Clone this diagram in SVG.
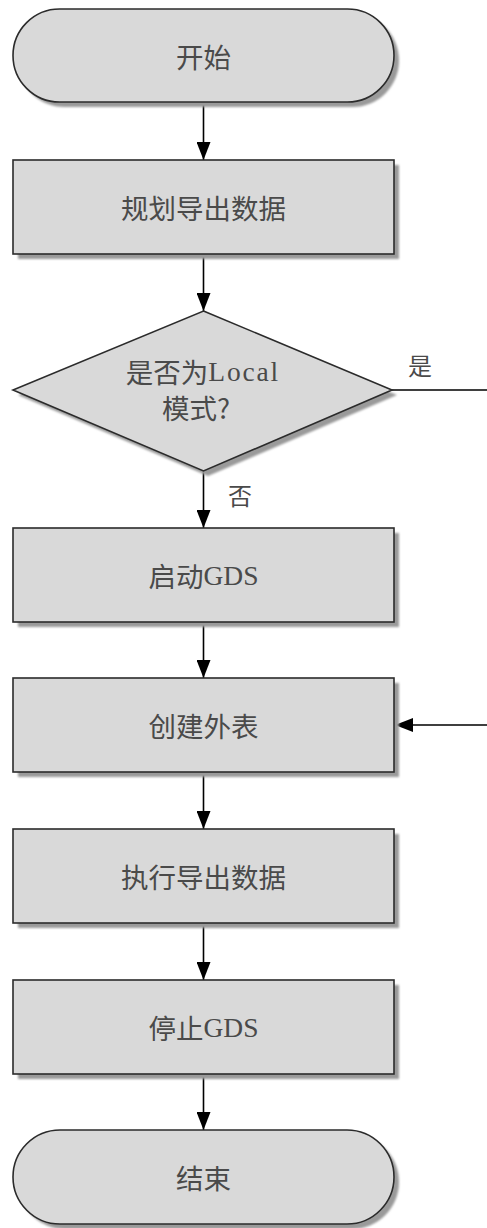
<svg xmlns="http://www.w3.org/2000/svg" width="487" height="1228" viewBox="0 0 487 1228">
<defs>
<style>
.shape{fill:#d9d9d9;stroke:#2b2b2b;stroke-width:1.6}
.shadow{fill:#9a9a9a;filter:url(#blur)}
.lbl{font-family:"Noto Sans CJK SC","Liberation Serif",serif;font-size:27.5px;fill:#4a4a4a;text-anchor:middle;dominant-baseline:central}
.lat{font-family:"Liberation Serif",serif}
.edge{fill:none;stroke:#000;stroke-width:1.6}
.elbl{font-family:"Noto Sans CJK SC",serif;font-size:24px;fill:#4a4a4a;text-anchor:middle;dominant-baseline:central}
</style>
<filter id="blur" x="-10%" y="-10%" width="120%" height="120%"><feGaussianBlur stdDeviation="1.2"/></filter>
<marker id="arr" viewBox="0 0 18 14" refX="18" refY="7" markerWidth="18" markerHeight="14" markerUnits="userSpaceOnUse" orient="auto">
<path d="M0,0 L18,7 L0,14 Z" fill="#000"/>
</marker>
</defs>
<g id="connectors">
<path class="edge" d="M203.5,102 V160" marker-end="url(#arr)"/>
<path class="edge" d="M203.5,254 V311" marker-end="url(#arr)"/>
<path class="edge" d="M203.5,471 V528" marker-end="url(#arr)"/>
<path class="edge" d="M203.5,622 V678" marker-end="url(#arr)"/>
<path class="edge" d="M203.5,772 V829" marker-end="url(#arr)"/>
<path class="edge" d="M203.5,923 V980" marker-end="url(#arr)"/>
<path class="edge" d="M203.5,1074 V1130" marker-end="url(#arr)"/>
<path class="edge" d="M392,390 H500 V725 H395" marker-end="url(#arr)"/>
<text class="elbl" x="420" y="364">是</text>
<text class="elbl" x="240" y="494">否</text>
</g>
<g id="start">
<rect class="shadow" x="18" y="14" width="381" height="93" rx="46.5"/>
<rect class="shape" x="13" y="9" width="381" height="93" rx="46.5"/>
<text class="lbl" x="203.5" y="55.5">开始</text>
</g>
<g id="plan">
<rect class="shadow" x="18" y="165" width="381" height="94"/>
<rect class="shape" x="13" y="160" width="381" height="94"/>
<text class="lbl" x="203.5" y="207">规划导出数据</text>
</g>
<g id="decision">
<polygon class="shadow" points="208,316 397,395 208,476 18,395"/>
<polygon class="shape" points="203.5,311 392,390 203.5,471 13,390"/>
<text class="lbl" x="202" y="371">是否为<tspan class="lat" textLength="70" lengthAdjust="spacing">Local</tspan></text>
<text class="lbl" x="196" y="407">模式?</text>
</g>
<g id="startgds">
<rect class="shadow" x="18" y="533" width="381" height="94"/>
<rect class="shape" x="13" y="528" width="381" height="94"/>
<text class="lbl" x="203.5" y="575">启动<tspan class="lat">GDS</tspan></text>
</g>
<g id="create">
<rect class="shadow" x="18" y="683" width="381" height="94"/>
<rect class="shape" x="13" y="678" width="381" height="94"/>
<text class="lbl" x="203.5" y="725">创建外表</text>
</g>
<g id="exec">
<rect class="shadow" x="18" y="834" width="381" height="94"/>
<rect class="shape" x="13" y="829" width="381" height="94"/>
<text class="lbl" x="203.5" y="876">执行导出数据</text>
</g>
<g id="stopgds">
<rect class="shadow" x="18" y="985" width="381" height="94"/>
<rect class="shape" x="13" y="980" width="381" height="94"/>
<text class="lbl" x="203.5" y="1027">停止<tspan class="lat">GDS</tspan></text>
</g>
<g id="end">
<rect class="shadow" x="18" y="1135" width="381" height="94" rx="47"/>
<rect class="shape" x="13" y="1130" width="381" height="94" rx="47"/>
<text class="lbl" x="203.5" y="1177">结束</text>
</g>
</svg>
